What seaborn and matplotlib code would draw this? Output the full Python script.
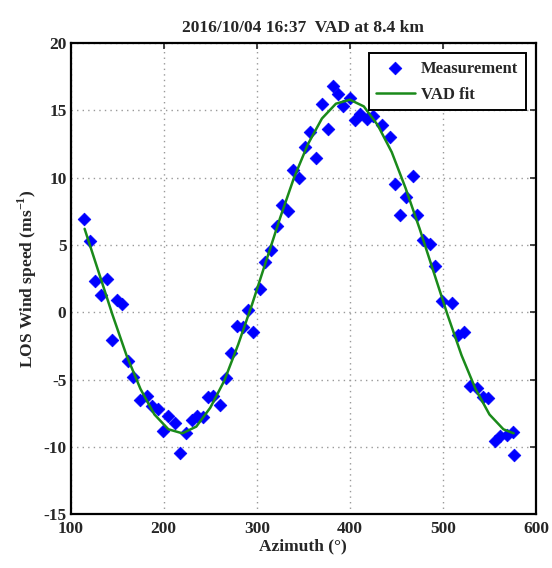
import matplotlib
matplotlib.use("Agg")
import matplotlib.pyplot as plt
import pandas as pd
import seaborn as sns

azimuth = [114.3, 120.7, 126.1, 132.2, 138.7, 144.1, 150.1, 154.8, 161.9, 167.3,
           174.5, 181.7, 187.0, 194.1, 199.5, 204.9, 212.1, 217.4, 223.9, 230.0,
           236.0, 241.8, 247.9, 253.2, 260.4, 266.6, 272.3, 278.4, 284.8, 290.8,
           296.2, 303.4, 308.8, 314.9, 321.4, 326.7, 333.8, 338.6, 345.3, 351.8,
           357.2, 363.6, 369.7, 376.8, 382.2, 387.6, 392.3, 400.2, 405.5, 410.9,
           418.0, 425.0, 434.2, 443.1, 448.5, 453.9, 460.3, 467.5, 472.5, 478.9,
           486.1, 491.5, 498.7, 509.4, 516.5, 522.6, 529.1, 536.3, 543.4, 548.8,
           556.0, 561.3, 568.5, 575.0, 576.4]
los_speed = [6.9, 5.3, 2.3, 1.3, 2.5, -2.1, 0.9, 0.6, -3.6, -4.8,
             -6.5, -6.2, -7.0, -7.2, -8.8, -7.7, -8.2, -10.5, -9.0, -8.0,
             -7.7, -7.8, -6.3, -6.2, -6.9, -4.9, -3.0, -1.0, -1.1, 0.2,
             -1.5, 1.7, 3.7, 4.6, 6.4, 8.0, 7.5, 10.6, 10.0, 12.3,
             13.4, 11.5, 15.5, 13.6, 16.8, 16.2, 15.3, 15.9, 14.3, 14.7,
             14.4, 14.6, 13.9, 13.0, 9.5, 7.2, 8.6, 10.1, 7.2, 5.4,
             5.1, 3.4, 0.8, 0.7, -1.7, -1.5, -5.5, -5.6, -6.3, -6.4,
             -9.6, -9.2, -9.1, -8.9, -10.6]

# VAD fit curve
fit_az = [115, 130, 145, 160, 175, 190, 205, 220, 235, 250, 265, 280, 295, 310,
          325, 340, 355, 370, 385, 400, 415, 430, 445, 460, 475, 490, 505, 520,
          535, 550, 565, 576]
fit_speed = [6.2, 3.0, -0.2, -3.2, -5.7, -7.6, -8.7, -9.0, -8.5, -7.1, -5.1, -2.4,
             0.6, 3.8, 7.0, 10.0, 12.5, 14.4, 15.5, 15.8, 15.3, 13.9, 11.9, 9.2,
             6.2, 3.0, -0.2, -3.2, -5.7, -7.6, -8.7, -9.0]

x_ticks = [100, 200, 300, 400, 500, 600]
y_ticks = [-15, -10, -5, 0, 5, 10, 15, 20]

meas = pd.DataFrame({"az": azimuth, "v": los_speed})
fit = pd.DataFrame({"az": fit_az, "v": fit_speed})

sns.set_style("white")
plt.rcParams["font.family"] = ["Liberation Serif", "DejaVu Serif"]
plt.rcParams["font.weight"] = "bold"
plt.rcParams["axes.unicode_minus"] = False
plt.rcParams["mathtext.fontset"] = "custom"
plt.rcParams["mathtext.rm"] = "Liberation Serif:bold"
plt.rcParams["mathtext.bf"] = "Liberation Serif:bold"

fig = plt.figure(figsize=(5.52, 5.68), dpi=100)
ax = fig.add_axes([0.128, 0.095, 0.843, 0.829])

sns.scatterplot(data=meas, x="az", y="v", marker="D", s=42, color="#0000ff",
                edgecolor="#0000ff", linewidth=0.5, label="Measurement", ax=ax, zorder=3)
sns.lineplot(data=fit, x="az", y="v", color="#1a8a1a", linewidth=1.8,
             label="VAD fit", ax=ax, zorder=4)

ax.set_xlim(100, 600)
ax.set_ylim(-15, 20)
ax.set_xticks(x_ticks)
ax.set_yticks(y_ticks)
ax.grid(True, linestyle=(0, (1, 3)), color="#999999", linewidth=1.0)
ax.tick_params(direction="in", top=True, right=True, length=4, width=1.2,
               labelsize=12.5, pad=3)
ax.tick_params(axis="x", pad=5)
for lab in ax.get_xticklabels() + ax.get_yticklabels():
    lab.set_fontweight("bold")
for sp in ax.spines.values():
    sp.set_linewidth(1.6)
    sp.set_color("black")

ax.set_xlabel("Azimuth (°)", fontsize=12.5, fontweight="bold", labelpad=1)
ax.set_ylabel(r"LOS Wind speed (ms$^{-1}$)", fontsize=12.5, fontweight="bold",
              labelpad=3)
ax.set_title("2016/10/04 16:37  VAD at 8.4 km", fontsize=12.5, fontweight="bold",
             pad=8)

leg = ax.legend(loc="upper right", fancybox=False, framealpha=1, edgecolor="black",
                fontsize=12, borderaxespad=0.6, handlelength=2.3,
                handletextpad=0.4, labelspacing=0.6, borderpad=0.45)
leg.get_frame().set_linewidth(1.4)
for t in leg.get_texts():
    t.set_fontweight("bold")

fig.savefig("out.png", dpi=100)
